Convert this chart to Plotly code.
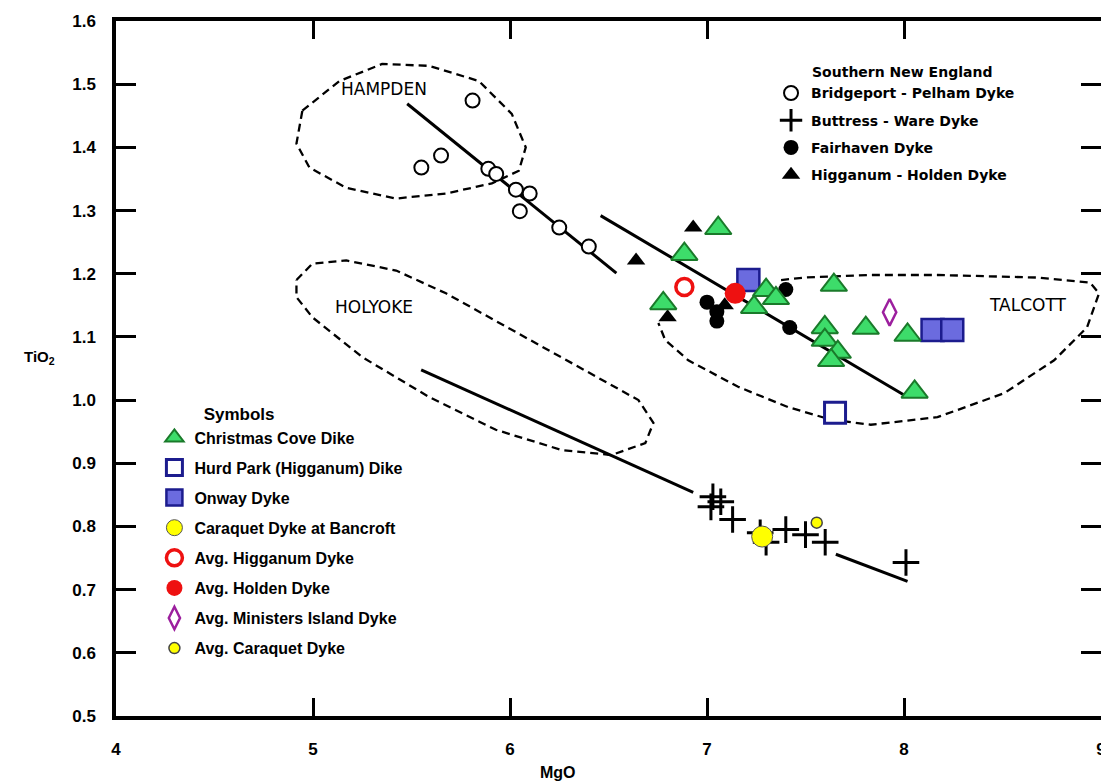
import plotly.graph_objects as go

# ---------------- data (MgO, TiO2) ----------------
bp_mgo = [5.81, 5.55, 5.65, 5.89, 5.93, 6.03, 6.10, 6.05, 6.25, 6.40]
bp_tio2 = [1.474, 1.368, 1.387, 1.366, 1.358, 1.333, 1.327, 1.299, 1.273, 1.243]

bw_mgo = [7.03, 7.07, 7.02, 7.13, 7.27, 7.30, 7.40, 7.50, 7.60, 8.01]
bw_tio2 = [0.847, 0.839, 0.831, 0.811, 0.790, 0.775, 0.795, 0.787, 0.775, 0.743]

fh_mgo = [7.00, 7.05, 7.05, 7.40, 7.42]
fh_tio2 = [1.155, 1.140, 1.125, 1.175, 1.115]

hh_mgo = [6.93, 6.64, 6.80, 7.09]
hh_tio2 = [1.273, 1.221, 1.131, 1.150]

cc_mgo = [7.057, 6.885, 6.778, 7.239, 7.30, 7.35, 7.644, 7.598, 7.598, 7.664, 7.63, 7.806, 8.018, 8.054]
cc_tio2 = [1.272, 1.231, 1.153, 1.147, 1.174, 1.161, 1.182, 1.115, 1.095, 1.076, 1.063, 1.114, 1.103, 1.013]

hurd_mgo = [7.65]
hurd_tio2 = [0.980]

onway_mgo = [7.21, 8.145, 8.245]
onway_tio2 = [1.190, 1.111, 1.111]

carb_mgo = [7.28]
carb_tio2 = [0.784]

avg_higg_mgo = [6.885]
avg_higg_tio2 = [1.179]

avg_hold_mgo = [7.143]
avg_hold_tio2 = [1.169]

avg_min_mgo = [7.927]
avg_min_tio2 = [1.139]

avg_car_mgo = [7.557]
avg_car_tio2 = [0.806]

# trend lines
bp_line_mgo = [5.478, 6.540]
bp_line_tio2 = [1.469, 1.201]
hh_line_mgo = [6.46, 8.00]
hh_line_tio2 = [1.292, 1.008]
hol_line1_mgo = [5.549, 6.930]
hol_line1_tio2 = [1.048, 0.854]
hol_line2_mgo = [7.654, 8.018]
hol_line2_tio2 = [0.756, 0.713]

# field outlines
hampden_mgo = [4.946, 5.134, 5.351, 5.589, 5.842, 6.009, 6.080, 6.045, 5.908, 5.675, 5.422, 5.169, 4.982, 4.916, 4.946]
hampden_tio2 = [1.458, 1.505, 1.532, 1.529, 1.505, 1.453, 1.400, 1.363, 1.343, 1.327, 1.319, 1.336, 1.368, 1.406, 1.458]

holyoke_mgo = [4.916, 4.997, 5.169, 5.422, 5.675, 6.009, 6.348, 6.652, 6.728, 6.687, 6.515, 6.262, 5.928, 5.589, 5.250, 4.997, 4.916, 4.916]
holyoke_tio2 = [1.190, 1.216, 1.221, 1.205, 1.169, 1.111, 1.052, 1.000, 0.964, 0.932, 0.913, 0.921, 0.953, 1.005, 1.068, 1.131, 1.163, 1.190]

talcott_mgo = [7.376, 7.497, 7.831, 8.170, 8.676, 8.944, 8.990, 8.929, 8.762, 8.509, 8.170, 7.831, 7.629, 7.411, 7.158, 6.905, 6.788, 6.753]
talcott_tio2 = [1.190, 1.194, 1.198, 1.198, 1.194, 1.186, 1.169, 1.115, 1.063, 1.011, 0.973, 0.961, 0.969, 0.989, 1.021, 1.063, 1.095, 1.122]

field_labels = ["HAMPDEN", "HOLYOKE", "TALCOTT"]
field_label_mgo = [5.36, 5.31, 8.63]
field_label_tio2 = [1.493, 1.147, 1.150]

x_ticks = [4, 5, 6, 7, 8, 9]
y_ticks = [0.5, 0.6, 0.7, 0.8, 0.9, 1.0, 1.1, 1.2, 1.3, 1.4, 1.5, 1.6]

# ---------------- styling ----------------
FONT = "Liberation Sans"
WIDE = "DejaVu Sans"
GREEN = "#3ddc6a"
GREEN_EDGE = "#1a7a2a"
NAVY = "#1c1c8e"
ONWAY = "#6b6bdf"
RED = "#ee1111"
PURPLE = "#9c1f9e"
YELLOW = "#ffff00"

fig = go.Figure()

def outline(x, y):
    fig.add_trace(go.Scatter(x=x, y=y, mode="lines", showlegend=False, hoverinfo="skip",
                             line=dict(color="black", width=2.3, dash="8px,5px")))

outline(hampden_mgo, hampden_tio2)
outline(holyoke_mgo, holyoke_tio2)
outline(talcott_mgo, talcott_tio2)

def trend(x, y):
    fig.add_trace(go.Scatter(x=x, y=y, mode="lines", showlegend=False, hoverinfo="skip",
                             line=dict(color="black", width=3)))

trend(bp_line_mgo, bp_line_tio2)
trend(hh_line_mgo, hh_line_tio2)
trend(hol_line1_mgo, hol_line1_tio2)
trend(hol_line2_mgo, hol_line2_tio2)

def pts(x, y, name, legend, rank, **marker):
    fig.add_trace(go.Scatter(x=x, y=y, mode="markers", name=name, legend=legend,
                             legendgroup=name, legendrank=rank, marker=marker))

# Southern New England legend
pts(bp_mgo, bp_tio2, "Bridgeport - Pelham Dyke", "legend", 1,
    symbol="circle", size=14, color="white", line=dict(color="black", width=2))
pts(bw_mgo, bw_tio2, "Buttress - Ware Dyke", "legend", 2,
    symbol="cross-thin", size=19, color="black", line=dict(color="black", width=3))
pts(fh_mgo, fh_tio2, "Fairhaven Dyke", "legend", 3,
    symbol="circle", size=15, color="black", line=dict(color="black", width=0))
pts(hh_mgo, hh_tio2, "Higganum - Holden Dyke", "legend", 4,
    symbol="triangle-up", size=16, color="black", line=dict(color="black", width=0))

# Symbols legend
pts(onway_mgo, onway_tio2, "Onway Dyke", "legend2", 3,
    symbol="square", size=22, color=ONWAY, line=dict(color=NAVY, width=2.5))
pts(cc_mgo, cc_tio2, "Christmas Cove Dike", "legend2", 1,
    symbol="triangle-up", size=23, color=GREEN, line=dict(color=GREEN_EDGE, width=2))
pts(hurd_mgo, hurd_tio2, "Hurd Park (Higganum) Dike", "legend2", 2,
    symbol="square", size=21, color="white", line=dict(color=NAVY, width=3))
pts(carb_mgo, carb_tio2, "Caraquet Dyke at Bancroft", "legend2", 4,
    symbol="circle", size=21, color=YELLOW, line=dict(color="#555555", width=1))
pts(avg_higg_mgo, avg_higg_tio2, "Avg. Higganum Dyke", "legend2", 5,
    symbol="circle", size=17, color="white", line=dict(color=RED, width=3.5))
pts(avg_hold_mgo, avg_hold_tio2, "Avg. Holden Dyke", "legend2", 6,
    symbol="circle", size=21, color=RED, line=dict(color=RED, width=0))
pts(avg_min_mgo, avg_min_tio2, "Avg. Ministers Island Dyke", "legend2", 7,
    symbol="diamond-tall", size=19, color="white", line=dict(color=PURPLE, width=2.5))
pts(avg_car_mgo, avg_car_tio2, "Avg. Caraquet Dyke", "legend2", 8,
    symbol="circle", size=11, color=YELLOW, line=dict(color="#444444", width=1.5))

for t, x, y in zip(field_labels, field_label_mgo, field_label_tio2):
    fig.add_annotation(x=x, y=y, xref="x", yref="y", text=t, showarrow=False,
                       font=dict(family=WIDE, size=17, color="black"))

fig.add_annotation(x=-0.095, y=0.516, xref="paper", yref="paper", text="<b>TiO<sub>2</sub></b>",
                   showarrow=False, font=dict(family=FONT, size=15, color="black"))
fig.add_annotation(x=0.449, y=-0.097, xref="paper", yref="paper", text="<b>MgO</b>",
                   showarrow=False, font=dict(family=FONT, size=16, color="black"))

axis_common = dict(showline=True, linecolor="black", linewidth=3.5, mirror="ticks",
                   ticks="inside", tickcolor="black", tickwidth=3, showgrid=False, zeroline=False)

fig.update_layout(
    width=1101, height=776,
    margin=dict(l=108, r=4, t=12, b=68),
    paper_bgcolor="white", plot_bgcolor="white",
    font=dict(family=FONT, color="black"),
    xaxis=dict(range=[4, 9], tickmode="array", tickvals=x_ticks, ticklen=18,
               tickfont=dict(family=FONT, size=17, weight="bold"), ticklabelstandoff=15,
               **axis_common),
    xaxis2=dict(range=[4, 9], overlaying="x", anchor="y", side="bottom", tickmode="array",
                tickvals=[5], ticklen=34, showticklabels=False, **axis_common),
    yaxis=dict(range=[0.5, 1.6], tickmode="array", tickvals=y_ticks, tickformat=".1f", ticklen=20,
               tickfont=dict(family=FONT, size=17, weight="bold"), ticklabelstandoff=13,
               **axis_common),
    legend=dict(x=0.665, y=0.945, xanchor="left", yanchor="top", bgcolor="rgba(0,0,0,0)",
                traceorder="grouped", tracegroupgap=6,
                title=dict(text="\u00a0" * 8 + "<b>Southern New England</b>",
                           font=dict(family=WIDE, size=14)),
                font=dict(family=WIDE, size=14, weight="bold")),
    legend2=dict(x=0.039, y=0.457, xanchor="left", yanchor="top", bgcolor="rgba(0,0,0,0)",
                 traceorder="grouped", tracegroupgap=6.3,
                 title=dict(text="\u00a0" * 10 + "<b>Symbols</b>",
                            font=dict(family=FONT, size=17)),
                 font=dict(family=FONT, size=16, weight="bold")),
)

fig.write_html("out.html")
